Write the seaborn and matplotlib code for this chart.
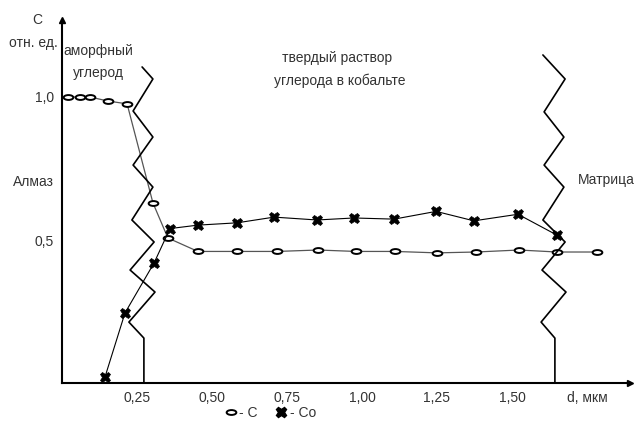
import numpy as np
import matplotlib
matplotlib.use("Agg")
import matplotlib.pyplot as plt
import seaborn as sns
import pandas as pd
from matplotlib.path import Path
from matplotlib.transforms import Affine2D
from matplotlib.lines import Line2D

# Данные: концентрация углерода (C) и кобальта (Co)
c_x = [0.02, 0.06, 0.093, 0.153, 0.217, 0.303, 0.353, 0.453, 0.583, 0.717,
       0.853, 0.98, 1.11, 1.25, 1.38, 1.523, 1.65, 1.783]
c_y = [1.0, 1.0, 1.0, 0.986, 0.976, 0.63, 0.507, 0.46, 0.46, 0.46,
       0.465, 0.46, 0.46, 0.455, 0.458, 0.465, 0.458, 0.458]

co_x = [0.143, 0.21, 0.307, 0.36, 0.453, 0.583, 0.707, 0.85, 0.973, 1.107,
        1.247, 1.373, 1.52, 1.65]
co_y = [0.02, 0.245, 0.42, 0.54, 0.552, 0.56, 0.58, 0.57, 0.577, 0.573,
        0.60, 0.567, 0.59, 0.517]

# Границы (зигзаги)
left_x = [0.267, 0.303, 0.237, 0.303, 0.237, 0.303, 0.233, 0.307, 0.227, 0.31, 0.223, 0.273, 0.273]
left_y = [1.105, 1.063, 0.951, 0.86, 0.762, 0.685, 0.57, 0.493, 0.395, 0.318, 0.213, 0.157, 0.0]
right_x = [1.603, 1.677, 1.607, 1.673, 1.607, 1.673, 1.603, 1.677, 1.6, 1.68, 1.597, 1.643, 1.643]
right_y = [1.147, 1.063, 0.948, 0.86, 0.762, 0.685, 0.57, 0.493, 0.395, 0.318, 0.213, 0.157, 0.0]

x_ticks = [0.25, 0.50, 0.75, 1.00, 1.25, 1.50, 1.75]
x_labels = ["0,25", "0,50", "0,75", "1,00", "1,25", "1,50", "d, мкм"]
y_ticks = [0.5, 1.0]
y_labels = ["0,5", "1,0"]

sns.set_style("white")
plt.rcParams['font.family'] = ['Liberation Sans', 'DejaVu Sans']
plt.rcParams['font.size'] = 10

fig = plt.figure(figsize=(6.35, 4.23), dpi=100)
ax = fig.add_axes([62 / 635, 40 / 423, 568 / 635, 363 / 423])

# овальный маркер
oval = Path.unit_circle().transformed(Affine2D().scale(1.0, 0.5))
# широкий крестик
cross = Path.unit_rectangle()  # placeholder, replaced below
cross_m = "X"

df_c = pd.DataFrame({"x": c_x, "y": c_y})
df_co = pd.DataFrame({"x": co_x, "y": co_y})

sns.lineplot(data=df_c, x="x", y="y", ax=ax, color="#555555", lw=0.9,
             marker=oval, markersize=7, markerfacecolor="white",
             markeredgecolor="black", markeredgewidth=1.4)
sns.lineplot(data=df_co, x="x", y="y", ax=ax, color="black", lw=0.8,
             marker=cross_m, markersize=7.5, markerfacecolor="black",
             markeredgecolor="black", markeredgewidth=0.5)

ax.plot(left_x, left_y, color="black", lw=1.2)
ax.plot(right_x, right_y, color="black", lw=1.2)

ax.set_xlim(0, 568 / 300)
ax.set_ylim(0, 363 / 286)

for s in ["top", "right"]:
    ax.spines[s].set_visible(False)
for s in ["left", "bottom"]:
    ax.spines[s].set_linewidth(1.5)
    ax.spines[s].set_color("black")

# стрелки на осях
ax.plot(1, 0, ">k", transform=ax.get_yaxis_transform(), clip_on=False, markersize=5)
ax.plot(0, 1, "^k", transform=ax.get_xaxis_transform(), clip_on=False, markersize=5)

ax.set_xticks(x_ticks)
ax.set_xticklabels(x_labels, color="#333333")
ax.set_yticks(y_ticks)
ax.set_yticklabels(y_labels, color="#333333")
ax.tick_params(axis="x", direction="in", length=4, width=1, pad=6)
ax.tick_params(axis="y", direction="out", length=3, width=1, pad=3)
ax.set_xlabel("")
ax.set_ylabel("")

# подписи
tc = "#333333"
fig.text(37 / 635, 1 - 20 / 423, "C", ha="center", va="center", color=tc)
fig.text(33 / 635, 1 - 43 / 423, "отн. ед.", ha="center", va="center", color=tc)
fig.text(98 / 635, 1 - 51 / 423, "аморфный", ha="center", va="center", color=tc)
fig.text(98 / 635, 1 - 73 / 423, "углерод", ha="center", va="center", color=tc)
fig.text(337 / 635, 1 - 58 / 423, "твердый раствор", ha="center", va="center", color=tc)
fig.text(340 / 635, 1 - 81 / 423, "углерода в кобальте", ha="center", va="center", color=tc)
fig.text(33 / 635, 1 - 182 / 423, "Алмаз", ha="center", va="center", color=tc)
fig.text(606 / 635, 1 - 180 / 423, "Матрица", ha="center", va="center", color=tc)

handles = [
    Line2D([], [], ls="none", marker=oval, markersize=7, markerfacecolor="white",
           markeredgecolor="black", markeredgewidth=1.4),
    Line2D([], [], ls="none", marker=cross_m, markersize=7.5, color="black"),
]
fig.legend(handles, ["- C", "- Co"], ncol=2, frameon=False, loc="center",
           bbox_to_anchor=(270 / 635, 1 - 413 / 423), handletextpad=0.1,
           columnspacing=1.2, handlelength=1.0, fontsize=10, labelcolor=tc)

fig.savefig("out.png", dpi=100)
